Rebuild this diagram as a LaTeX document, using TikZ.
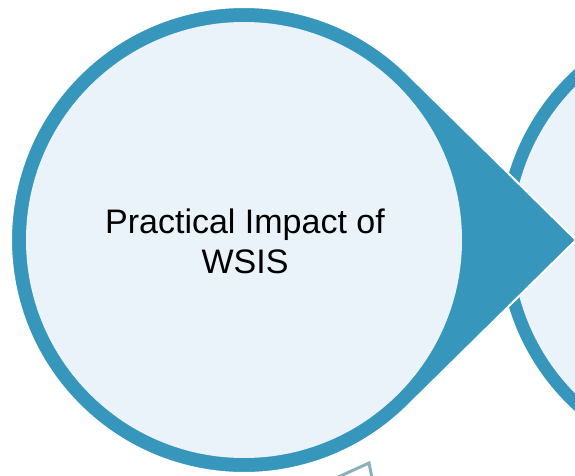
\documentclass[tikz,border=0pt]{standalone}
\usepackage{fontspec}
\setmainfont{Liberation Sans}
\definecolor{ringteal}{RGB}{54,150,188}
\definecolor{paleblue}{RGB}{234,243,249}
\definecolor{greyteal}{RGB}{140,176,185}
\tikzset{
  ringfill/.style={fill=ringteal, draw=white, line width=2},
  innerdisc/.style={circle, fill=paleblue, inner sep=0, minimum size=436},
  labeltext/.style={align=center, font=\fontsize{34}{40}\selectfont}
}
\begin{document}
\begin{tikzpicture}[x=1pt,y=1pt]
\useasboundingbox (0,0) rectangle (575,-476);
\clip (0,0) rectangle (575,-476);
%next step (cut off)
\coordinate (c2) at (730,-240);
\filldraw[ringfill] (c2) circle (232);
\node[innerdisc] (disc2) at (c2) {};
%arrow at the bottom
\draw[greyteal, line width=3] (336,-478) -- (369,-463) -- (372,-478);
%teardrop
\coordinate (c1) at (244,-240);
\coordinate (tip) at (576,-240);
\filldraw[ringfill] (tip) -- ([shift={(45:233)}]c1) arc[start angle=45, end angle=315, radius=233] -- cycle;
\node[innerdisc] (disc1) at (c1) {};
\node[labeltext] (impact) at (245,-241) {Practical Impact of\\WSIS};
\end{tikzpicture}
\end{document}
